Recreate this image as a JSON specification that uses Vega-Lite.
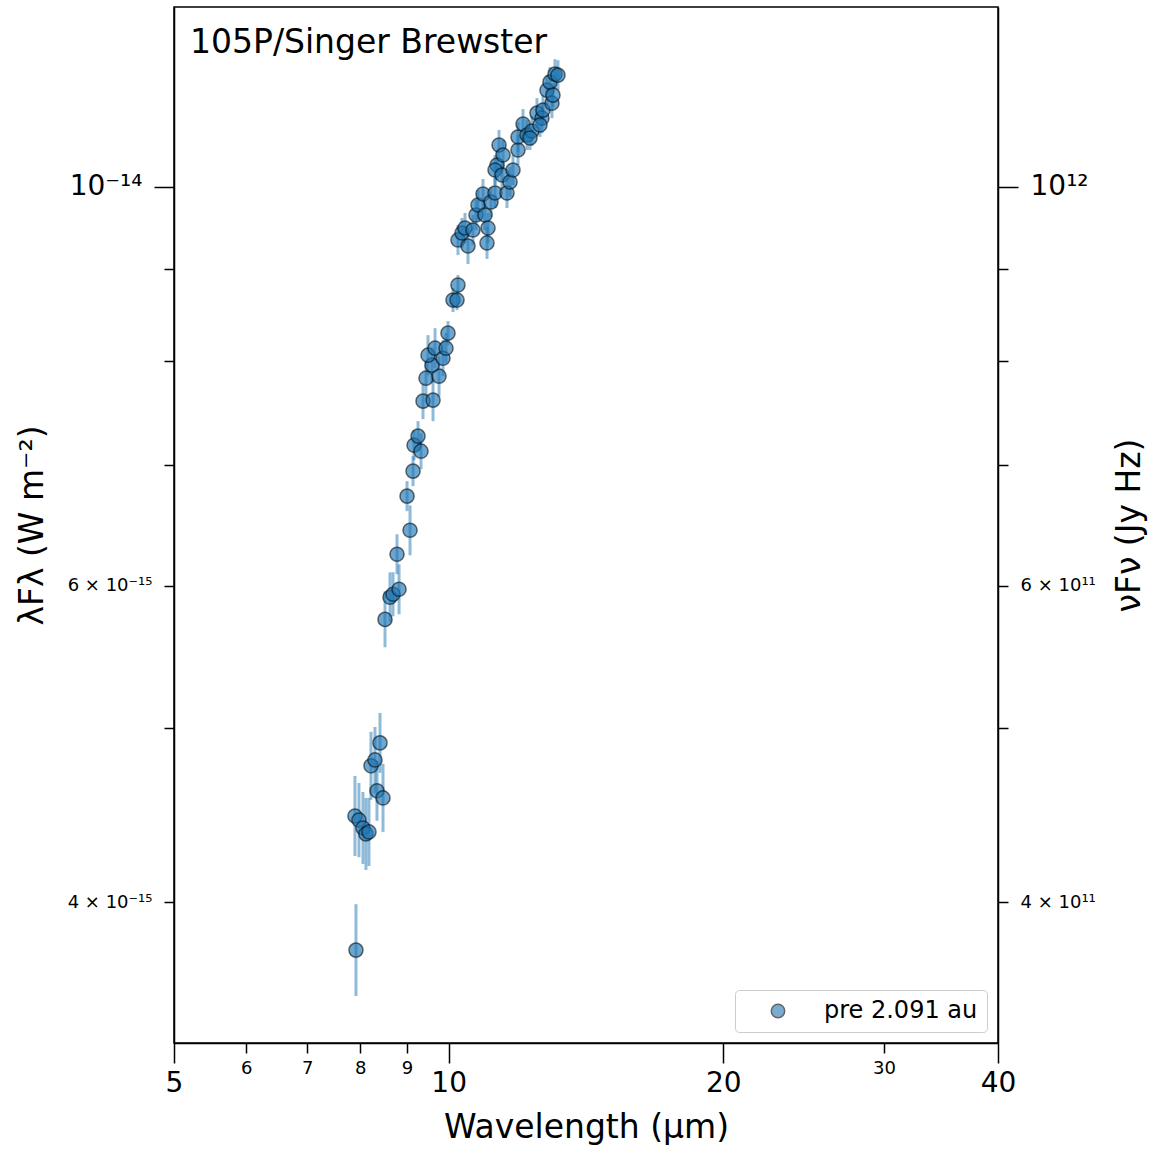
{
  "$schema": "https://vega.github.io/schema/vega-lite/v6.json",
  "width": 824,
  "height": 1036,
  "autosize": {"type": "none"},
  "padding": {"left": 174, "top": 7, "right": 156, "bottom": 109},
  "background": "white",
  "config": {
    "font": "DejaVu Sans",
    "view": {"stroke": "black", "strokeWidth": 1.5},
    "axis": {
      "grid": false,
      "domainColor": "black",
      "domainWidth": 1.5,
      "tickColor": "black",
      "tickWidth": 1.5,
      "labelColor": "black",
      "titleColor": "black",
      "titleFontWeight": "normal",
      "labelFont": "DejaVu Sans",
      "titleFont": "DejaVu Sans",
      "labelOverlap": false,
      "labelFlush": false,
      "labelBound": false
    }
  },
  "title": {
    "text": "105P/Singer Brewster",
    "anchor": "start",
    "frame": "group",
    "orient": "top",
    "offset": -79,
    "dx": 16,
    "fontSize": 33,
    "fontWeight": "normal",
    "color": "black",
    "font": "DejaVu Sans",
    "baseline": "alphabetic"
  },
  "data": {
    "values": [
      {"wl": 7.914, "flux": 3.761, "lo": 3.546, "hi": 3.989, "series": "pre 2.091 au"},
      {"wl": 7.894, "flux": 4.466, "lo": 4.243, "hi": 4.701, "series": "pre 2.091 au"},
      {"wl": 7.974, "flux": 4.443, "lo": 4.237, "hi": 4.659, "series": "pre 2.091 au"},
      {"wl": 8.055, "flux": 4.398, "lo": 4.200, "hi": 4.606, "series": "pre 2.091 au"},
      {"wl": 8.116, "flux": 4.365, "lo": 4.168, "hi": 4.571, "series": "pre 2.091 au"},
      {"wl": 8.178, "flux": 4.376, "lo": 4.189, "hi": 4.571, "series": "pre 2.091 au"},
      {"wl": 8.220, "flux": 4.763, "lo": 4.560, "hi": 4.975, "series": "pre 2.091 au"},
      {"wl": 8.303, "flux": 4.799, "lo": 4.600, "hi": 5.006, "series": "pre 2.091 au"},
      {"wl": 8.409, "flux": 4.905, "lo": 4.720, "hi": 5.097, "series": "pre 2.091 au"},
      {"wl": 8.345, "flux": 4.613, "lo": 4.439, "hi": 4.794, "series": "pre 2.091 au"},
      {"wl": 8.473, "flux": 4.571, "lo": 4.376, "hi": 4.775, "series": "pre 2.091 au"},
      {"wl": 8.516, "flux": 5.746, "lo": 5.544, "hi": 5.956, "series": "pre 2.091 au"},
      {"wl": 8.624, "flux": 5.911, "lo": 5.725, "hi": 6.103, "series": "pre 2.091 au"},
      {"wl": 8.690, "flux": 5.934, "lo": 5.769, "hi": 6.104, "series": "pre 2.091 au"},
      {"wl": 8.823, "flux": 5.972, "lo": 5.784, "hi": 6.166, "series": "pre 2.091 au"},
      {"wl": 8.778, "flux": 6.246, "lo": 6.088, "hi": 6.408, "series": "pre 2.091 au"},
      {"wl": 9.003, "flux": 6.729, "lo": 6.601, "hi": 6.860, "series": "pre 2.091 au"},
      {"wl": 9.071, "flux": 6.441, "lo": 6.238, "hi": 6.650, "series": "pre 2.091 au"},
      {"wl": 9.140, "flux": 6.948, "lo": 6.816, "hi": 7.083, "series": "pre 2.091 au"},
      {"wl": 9.163, "flux": 7.183, "lo": 7.046, "hi": 7.322, "series": "pre 2.091 au"},
      {"wl": 9.256, "flux": 7.267, "lo": 7.129, "hi": 7.408, "series": "pre 2.091 au"},
      {"wl": 9.326, "flux": 7.128, "lo": 6.966, "hi": 7.294, "series": "pre 2.091 au"},
      {"wl": 9.373, "flux": 7.600, "lo": 7.427, "hi": 7.777, "series": "pre 2.091 au"},
      {"wl": 9.613, "flux": 7.610, "lo": 7.408, "hi": 7.818, "series": "pre 2.091 au"},
      {"wl": 9.444, "flux": 7.827, "lo": 7.649, "hi": 8.009, "series": "pre 2.091 au"},
      {"wl": 9.760, "flux": 7.847, "lo": 7.648, "hi": 8.051, "series": "pre 2.091 au"},
      {"wl": 9.589, "flux": 7.959, "lo": 7.778, "hi": 8.144, "series": "pre 2.091 au"},
      {"wl": 9.492, "flux": 8.061, "lo": 7.857, "hi": 8.271, "series": "pre 2.091 au"},
      {"wl": 9.662, "flux": 8.134, "lo": 7.928, "hi": 8.345, "series": "pre 2.091 au"},
      {"wl": 9.858, "flux": 8.030, "lo": 7.847, "hi": 8.217, "series": "pre 2.091 au"},
      {"wl": 9.933, "flux": 8.134, "lo": 7.979, "hi": 8.292, "series": "pre 2.091 au"},
      {"wl": 9.983, "flux": 8.292, "lo": 8.165, "hi": 8.421, "series": "pre 2.091 au"},
      {"wl": 10.110, "flux": 8.651, "lo": 8.519, "hi": 8.785, "series": "pre 2.091 au"},
      {"wl": 10.213, "flux": 8.651, "lo": 8.541, "hi": 8.763, "series": "pre 2.091 au"},
      {"wl": 10.238, "flux": 8.819, "lo": 8.707, "hi": 8.933, "series": "pre 2.091 au"},
      {"wl": 10.238, "flux": 9.344, "lo": 9.166, "hi": 9.525, "series": "pre 2.091 au"},
      {"wl": 10.342, "flux": 9.428, "lo": 9.249, "hi": 9.611, "series": "pre 2.091 au"},
      {"wl": 10.421, "flux": 9.488, "lo": 9.307, "hi": 9.672, "series": "pre 2.091 au"},
      {"wl": 10.500, "flux": 9.272, "lo": 9.061, "hi": 9.488, "series": "pre 2.091 au"},
      {"wl": 10.633, "flux": 9.464, "lo": 9.284, "hi": 9.648, "series": "pre 2.091 au"},
      {"wl": 11.016, "flux": 9.308, "lo": 9.119, "hi": 9.501, "series": "pre 2.091 au"},
      {"wl": 10.714, "flux": 9.648, "lo": 9.464, "hi": 9.835, "series": "pre 2.091 au"},
      {"wl": 10.768, "flux": 9.772, "lo": 9.586, "hi": 9.962, "series": "pre 2.091 au"},
      {"wl": 10.960, "flux": 9.648, "lo": 9.464, "hi": 9.835, "series": "pre 2.091 au"},
      {"wl": 10.905, "flux": 9.911, "lo": 9.722, "hi": 10.103, "series": "pre 2.091 au"},
      {"wl": 11.128, "flux": 9.810, "lo": 9.623, "hi": 10.000, "series": "pre 2.091 au"},
      {"wl": 11.241, "flux": 9.923, "lo": 9.734, "hi": 10.116, "series": "pre 2.091 au"},
      {"wl": 11.044, "flux": 9.488, "lo": 9.307, "hi": 9.672, "series": "pre 2.091 au"},
      {"wl": 11.355, "flux": 10.553, "lo": 10.352, "hi": 10.758, "series": "pre 2.091 au"},
      {"wl": 11.298, "flux": 10.286, "lo": 10.090, "hi": 10.486, "series": "pre 2.091 au"},
      {"wl": 11.241, "flux": 10.220, "lo": 10.026, "hi": 10.418, "series": "pre 2.091 au"},
      {"wl": 11.441, "flux": 10.155, "lo": 9.962, "hi": 10.352, "series": "pre 2.091 au"},
      {"wl": 11.586, "flux": 9.923, "lo": 9.734, "hi": 10.116, "series": "pre 2.091 au"},
      {"wl": 11.675, "flux": 10.064, "lo": 9.873, "hi": 10.259, "series": "pre 2.091 au"},
      {"wl": 11.763, "flux": 10.220, "lo": 10.026, "hi": 10.418, "series": "pre 2.091 au"},
      {"wl": 11.470, "flux": 10.419, "lo": 10.221, "hi": 10.621, "series": "pre 2.091 au"},
      {"wl": 11.912, "flux": 10.485, "lo": 10.286, "hi": 10.688, "series": "pre 2.091 au"},
      {"wl": 11.912, "flux": 10.661, "lo": 10.458, "hi": 10.868, "series": "pre 2.091 au"},
      {"wl": 12.064, "flux": 10.840, "lo": 10.634, "hi": 11.050, "series": "pre 2.091 au"},
      {"wl": 12.187, "flux": 10.689, "lo": 10.486, "hi": 10.896, "series": "pre 2.091 au"},
      {"wl": 12.340, "flux": 10.744, "lo": 10.540, "hi": 10.952, "series": "pre 2.091 au"},
      {"wl": 12.496, "flux": 10.993, "lo": 10.784, "hi": 11.206, "series": "pre 2.091 au"},
      {"wl": 12.655, "flux": 10.922, "lo": 10.714, "hi": 11.134, "series": "pre 2.091 au"},
      {"wl": 12.687, "flux": 11.035, "lo": 10.825, "hi": 11.249, "series": "pre 2.091 au"},
      {"wl": 12.978, "flux": 11.134, "lo": 10.922, "hi": 11.350, "series": "pre 2.091 au"},
      {"wl": 12.815, "flux": 11.321, "lo": 11.106, "hi": 11.541, "series": "pre 2.091 au"},
      {"wl": 12.913, "flux": 11.438, "lo": 11.220, "hi": 11.660, "series": "pre 2.091 au"},
      {"wl": 13.077, "flux": 11.556, "lo": 11.336, "hi": 11.780, "series": "pre 2.091 au"},
      {"wl": 13.176, "flux": 11.541, "lo": 11.321, "hi": 11.765, "series": "pre 2.091 au"},
      {"wl": 13.011, "flux": 11.249, "lo": 11.077, "hi": 11.423, "series": "pre 2.091 au"},
      {"wl": 12.591, "flux": 10.827, "lo": 10.662, "hi": 10.995, "series": "pre 2.091 au"},
      {"wl": 12.278, "flux": 10.648, "lo": 10.486, "hi": 10.813, "series": "pre 2.091 au"}
    ]
  },
  "layer": [
    {
      "mark": {"type": "rule", "color": "#1f77b4", "opacity": 0.5, "strokeWidth": 3},
      "encoding": {
        "x": {
          "field": "wl", "type": "quantitative",
          "scale": {"type": "log", "domain": [5, 40], "nice": false, "zero": false},
          "axis": {
            "values": [5, 6, 7, 8, 9, 10, 20, 30, 40],
            "labelExpr": "'' + datum.value",
            "labelFontSize": {"condition": {"test": "datum.value == 5 || datum.value == 10 || datum.value == 20 || datum.value == 40", "value": 28}, "value": 18},
            "tickSize": {"condition": {"test": "datum.value == 5 || datum.value == 10 || datum.value == 20 || datum.value == 40", "value": 20}, "value": 10},
            "labelPadding": 6,
            "title": "Wavelength (μm)",
            "titleFontSize": 33,
            "titlePadding": 14
          }
        },
        "y": {
          "field": "lo", "type": "quantitative",
          "scale": {"type": "log", "domain": [3.339, 12.594], "nice": false, "zero": false},
          "axis": {
            "orient": "left",
            "values": [4, 5, 6, 7, 8, 9, 10],
            "labelExpr": "datum.value == 10 ? '10⁻¹⁴' : datum.value == 6 ? '6 × 10⁻¹⁵' : datum.value == 4 ? '4 × 10⁻¹⁵' : ''",
            "labelFontSize": {"condition": {"test": "datum.value == 10", "value": 28}, "value": 18},
            "tickSize": {"condition": {"test": "datum.value == 10", "value": 20}, "value": 10},
            "labelPadding": 12,
            "title": "λFλ (W m⁻²)",
            "titleFontSize": 33,
            "titlePadding": 18
          }
        },
        "y2": {"field": "hi"}
      }
    },
    {
      "mark": {"type": "point", "filled": true, "size": 200, "fillOpacity": 0.65, "stroke": "black", "strokeOpacity": 0.55, "strokeWidth": 1.5},
      "encoding": {
        "x": {
          "field": "wl", "type": "quantitative",
          "scale": {"type": "log", "domain": [5, 40], "nice": false, "zero": false}
        },
        "y": {
          "field": "flux", "type": "quantitative",
          "scale": {"type": "log", "domain": [3.339, 12.594], "nice": false, "zero": false},
          "axis": {
            "orient": "right",
            "values": [4, 5, 6, 7, 8, 9, 10],
            "labelExpr": "datum.value == 10 ? '10¹²' : datum.value == 6 ? '6 × 10¹¹' : datum.value == 4 ? '4 × 10¹¹' : ''",
            "labelFontSize": {"condition": {"test": "datum.value == 10", "value": 28}, "value": 18},
            "tickSize": {"condition": {"test": "datum.value == 10", "value": 20}, "value": 10},
            "labelPadding": 12,
            "title": "νFν (Jy Hz)",
            "titleFontSize": 33,
            "titleAngle": 270,
            "titleBaseline": "top",
            "titlePadding": 18
          }
        },
        "fill": {
          "field": "series", "type": "nominal",
          "scale": {"range": ["#1f77b4"]},
          "legend": {
            "orient": "bottom-right",
            "title": null,
            "offset": 11,
            "labelFontSize": 24,
            "labelColor": "black",
            "symbolType": "circle",
            "symbolSize": 180,
            "symbolStrokeColor": "black",
            "symbolStrokeWidth": 1.5,
            "symbolOpacity": 0.6,
            "padding": 9,
            "strokeColor": "#cccccc",
            "fillColor": "white",
            "cornerRadius": 4,
            "labelOffset": 34,
            "symbolOffset": 22
          }
        }
      }
    }
  ],
  "resolve": {"axis": {"y": "independent"}}
}
